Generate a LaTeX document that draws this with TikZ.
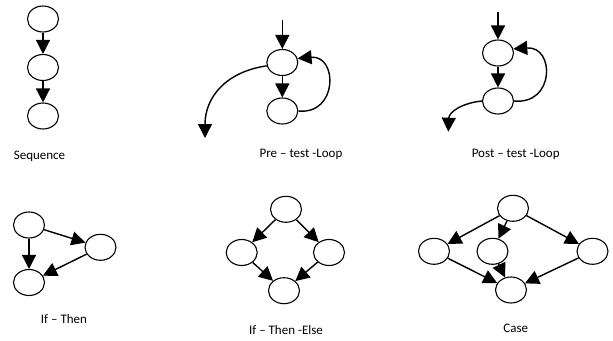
\documentclass[tikz,border=0pt]{standalone}
\usepackage{fontspec}
\setmainfont{Carlito}
\usetikzlibrary{arrows.meta,shapes.geometric}
\begin{document}
\begin{tikzpicture}[x=1pt,y=-1pt,
  blob/.style={draw,ellipse,line width=1.1pt,minimum width=31pt,minimum height=26pt,inner sep=0pt,fill=white},
  flow/.style={line width=1.4pt,-{Triangle[length=14pt,width=14pt]}},
  caption/.style={font=\fontsize{13}{15}\selectfont,anchor=mid}]
\useasboundingbox (0,0) rectangle (613,340);

% Sequence
\node[blob] (s1) at (43,19) {};
\node[blob] (s2) at (43,67.5) {};
\node[blob] (s3) at (43,116) {};
\draw[flow] (s1) -- (s2);
\draw[flow] (s2) -- (s3);
\node[caption] (sl) at (39.5,157) {Sequence};

% Pre-test loop
\coordinate (pin) at (282.3,20);
\node[blob] (p1) at (282.3,62.5) {};
\node[blob] (p2) at (282.3,111) {};
\coordinate (pout) at (205,138);
\draw[flow] (pin) -- (p1);
\draw[flow] (p1) -- (p2);
\draw[flow] (p2.east) .. controls (338,115) and (338,55) .. (p1.15);
\draw[flow] (p1.192) .. controls (225,72) and (205,98) .. (pout);
\node[caption] (pl) at (301,155) {Pre – test -Loop};

% Post-test loop
\coordinate (qin) at (498,12);
\node[blob] (q1) at (498,53) {};
\node[blob] (q2) at (498,101) {};
\coordinate (qout) at (448.3,131.7);
\draw[flow] (qin) -- (q1);
\draw[flow] (q1) -- (q2);
\draw[flow] (q2.east) .. controls (555,105) and (555,46) .. (q1.15);
\draw[flow] (q2.west) .. controls (462,103) and (449,112) .. (qout);
\node[caption] (ql) at (515.7,155) {Post – test -Loop};

% If - Then
\node[blob] (a1) at (29,225) {};
\node[blob] (a2) at (100.5,247.3) {};
\node[blob] (a3) at (29,282.5) {};
\draw[flow] (a1) -- (a3);
\draw[flow] (a1) -- (a2);
\draw[flow] (a2) -- (a3);
\node[caption] (al) at (64,321) {If – Then};

% If - Then - Else
\node[blob] (b1) at (286,209.3) {};
\node[blob] (b2) at (241.7,252.5) {};
\node[blob] (b3) at (329,252.5) {};
\node[blob] (b4) at (284,290.7) {};
\draw[flow] (b1) -- (b2);
\draw[flow] (b1) -- (b3);
\draw[flow] (b2) -- (b4);
\draw[flow] (b3) -- (b4);
\node[caption] (bl) at (286,331.7) {If – Then -Else};

% Case
\node[blob] (c1) at (513,208.3) {};
\node[blob] (c2) at (434,251.3) {};
\node[blob] (c3) at (492.5,251.3) {};
\node[blob] (c4) at (592.5,251.3) {};
\node[blob] (c5) at (511,290) {};
\draw[flow] (c1) -- (c2);
\draw[flow] (c1) -- (c3);
\draw[flow] (c1) -- (c4);
\draw[flow] (c2) -- (c5);
\draw[flow] (c3) -- (c5);
\draw[flow] (c4) -- (c5);
\node[caption] (cl) at (515.7,330) {Case};
\end{tikzpicture}
\end{document}
